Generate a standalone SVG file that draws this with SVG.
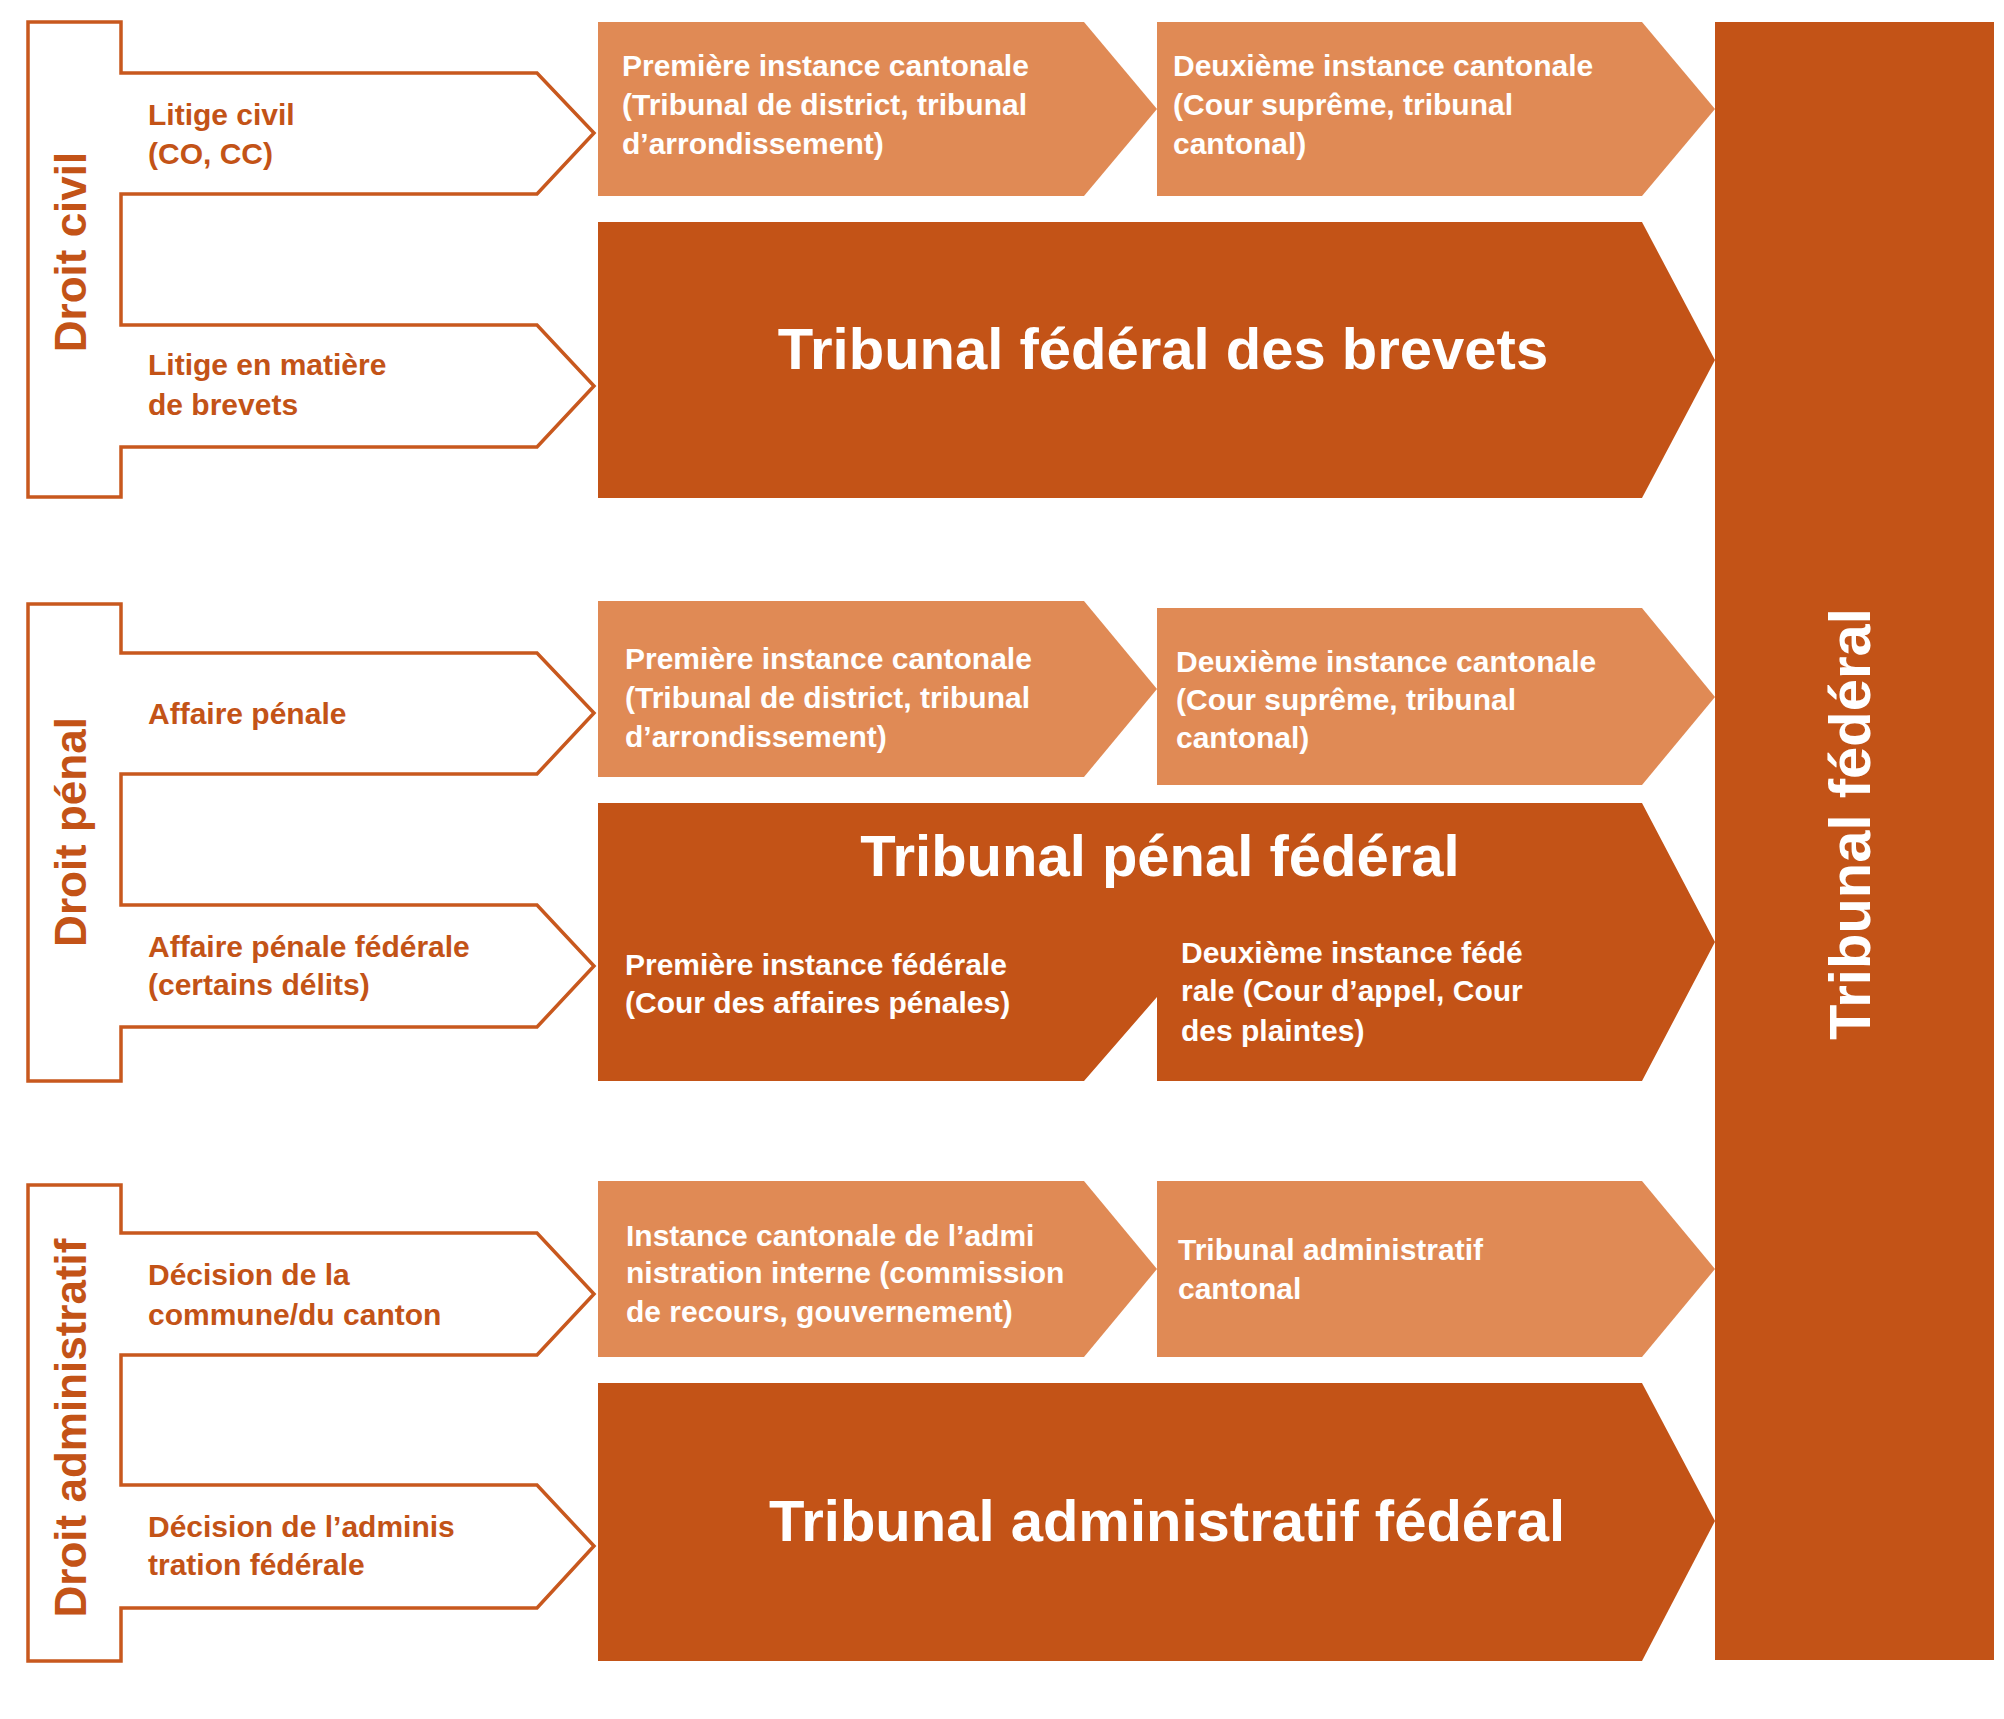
<svg xmlns="http://www.w3.org/2000/svg" width="2004" height="1719" viewBox="0 0 2004 1719">
<style>
.br{fill:#fff;stroke:#C8581E;stroke-width:3.5}
.lt{fill:#E08A55}
.dk{fill:#C35317}
text{font-family:"Liberation Sans",Arial,sans-serif;font-weight:bold}
.lab{fill:#C35317;font-size:30px}
.w{fill:#fff;font-size:30px}
.big{fill:#fff;font-size:58px;text-anchor:middle}
.vert{fill:#C35317;font-size:44px;text-anchor:middle}
</style>
<rect width="2004" height="1719" fill="#fff"/>
<g id="tribunal-federal">
<rect class="dk" x="1715" y="22" width="279" height="1638"/>
<text class="big" font-size="54" transform="translate(1870,824) rotate(-90)">Tribunal fédéral</text>
</g>
<g id="droit-civil">
<path class="br" d="M28,22H121V73H537L594,133L537,194H121V325H537L594,386L537,447H121V497H28Z"/>
<text class="vert" transform="translate(86,252) rotate(-90)">Droit civil</text>
<text class="lab" x="148" y="125">Litige civil</text>
<text class="lab" x="148" y="164">(CO, CC)</text>
<text class="lab" x="148" y="375">Litige en matière</text>
<text class="lab" x="148" y="415">de brevets</text>
</g>
<g id="civil-1">
<path class="lt" d="M598,22H1084L1157,109L1084,196H598Z"/>
<text class="w" x="622" y="76">Première instance cantonale</text>
<text class="w" x="622" y="115">(Tribunal de district, tribunal</text>
<text class="w" x="622" y="154">d’arrondissement)</text>
</g>
<g id="civil-2">
<path class="lt" d="M1157,22H1642L1715,109L1642,196H1157Z"/>
<text class="w" x="1173" y="76">Deuxième instance cantonale</text>
<text class="w" x="1173" y="115">(Cour suprême, tribunal</text>
<text class="w" x="1173" y="154">cantonal)</text>
</g>
<g id="brevets">
<path class="dk" d="M598,222H1642L1715,360L1642,498H598Z"/>
<text class="big" x="1163" y="369">Tribunal fédéral des brevets</text>
</g>
<g id="droit-penal">
<path class="br" d="M28,604H121V653H537L594,713L537,774H121V905H537L594,966L537,1027H121V1081H28Z"/>
<text class="vert" transform="translate(86,832) rotate(-90)">Droit pénal</text>
<text class="lab" x="148" y="724">Affaire pénale</text>
<text class="lab" x="148" y="957">Affaire pénale fédérale</text>
<text class="lab" x="148" y="995">(certains délits)</text>
</g>
<g id="penal-1">
<path class="lt" d="M598,601H1084L1157,689L1084,777H598Z"/>
<text class="w" x="625" y="669">Première instance cantonale</text>
<text class="w" x="625" y="708">(Tribunal de district, tribunal</text>
<text class="w" x="625" y="747">d’arrondissement)</text>
</g>
<g id="penal-2">
<path class="lt" d="M1157,608H1642L1715,697L1642,785H1157Z"/>
<text class="w" x="1176" y="672">Deuxième instance cantonale</text>
<text class="w" x="1176" y="710">(Cour suprême, tribunal</text>
<text class="w" x="1176" y="748">cantonal)</text>
</g>
<g id="penal-federal">
<path class="dk" d="M598,803H1642L1715,942L1642,1081H1157V997L1084,1081H598Z"/>
<text class="big" x="1160" y="876">Tribunal pénal fédéral</text>
<text class="w" x="625" y="975">Première instance fédérale</text>
<text class="w" x="625" y="1013">(Cour des affaires pénales)</text>
<text class="w" x="1181" y="963">Deuxième instance fédé</text>
<text class="w" x="1181" y="1001">rale (Cour d’appel, Cour</text>
<text class="w" x="1181" y="1041">des plaintes)</text>
</g>
<g id="droit-administratif">
<path class="br" d="M28,1185H121V1233H537L594,1294L537,1355H121V1485H537L594,1546L537,1608H121V1661H28Z"/>
<text class="vert" transform="translate(86,1428) rotate(-90)">Droit administratif</text>
<text class="lab" x="148" y="1285">Décision de la</text>
<text class="lab" x="148" y="1325">commune/du canton</text>
<text class="lab" x="148" y="1537">Décision de l’adminis</text>
<text class="lab" x="148" y="1575">tration fédérale</text>
</g>
<g id="admin-1">
<path class="lt" d="M598,1181H1084L1157,1269L1084,1357H598Z"/>
<text class="w" x="626" y="1246">Instance cantonale de l’admi</text>
<text class="w" x="626" y="1283">nistration interne (commission</text>
<text class="w" x="626" y="1322">de recours, gouvernement)</text>
</g>
<g id="admin-2">
<path class="lt" d="M1157,1181H1642L1715,1269L1642,1357H1157Z"/>
<text class="w" x="1178" y="1260">Tribunal administratif</text>
<text class="w" x="1178" y="1299">cantonal</text>
</g>
<g id="admin-federal">
<path class="dk" d="M598,1383H1642L1715,1521L1642,1661H598Z"/>
<text class="big" x="1167" y="1541">Tribunal administratif fédéral</text>
</g>
<g id="connectors"/>
</svg>
